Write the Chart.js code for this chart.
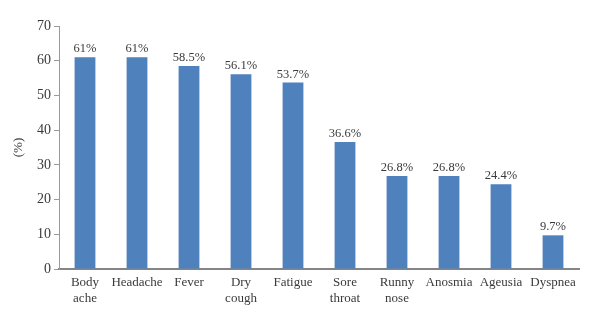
<!DOCTYPE html>
<html lang="en">
<head>
    <meta charset="UTF-8">
    <title>Symptoms</title>
    <style>
        body { margin: 0; background: #fff; }
        #wrap { width: 600px; height: 325px; position: relative; }
    </style>
</head>
<body>
    <div id="wrap"><canvas id="symptomChart"></canvas></div>

    <script src="https://cdn.jsdelivr.net/npm/chart.js@4.4.0/dist/chart.umd.min.js"></script>
    <script>
        // --- Data ---
        const symptoms = [
            ['Body', 'ache'], 'Headache', 'Fever', ['Dry', 'cough'], 'Fatigue',
            ['Sore', 'throat'], ['Runny', 'nose'], 'Anosmia', 'Ageusia', 'Dyspnea'
        ];
        const percentages = [61, 61, 58.5, 56.1, 53.7, 36.6, 26.8, 26.8, 24.4, 9.7];
        const yTicks = [0, 10, 20, 30, 40, 50, 60, 70];

        const serif = "'Liberation Serif', 'DejaVu Serif', serif";
        const textColor = '#3a3a3a';

        // Writes the percentage above each bar
        const valueLabels = {
            id: 'valueLabels',
            afterDatasetsDraw(chart) {
                const ctx = chart.ctx;
                const meta = chart.getDatasetMeta(0);
                ctx.save();
                ctx.font = '12.5px ' + serif;
                ctx.fillStyle = textColor;
                ctx.textAlign = 'center';
                ctx.textBaseline = 'alphabetic';
                meta.data.forEach((bar, i) => {
                    ctx.fillText(percentages[i] + '%', bar.x, bar.y - 5);
                });
                ctx.restore();
            }
        };

        new Chart(document.getElementById('symptomChart'), {
            type: 'bar',
            data: {
                labels: symptoms,
                datasets: [{
                    data: percentages,
                    backgroundColor: '#4f81bd',
                    barPercentage: 0.8,
                    categoryPercentage: 0.5
                }]
            },
            options: {
                responsive: true,
                maintainAspectRatio: false,
                animation: false,
                layout: { padding: { top: 26, right: 21, left: 0, bottom: 0 } },
                plugins: {
                    legend: { display: false },
                    tooltip: { enabled: false }
                },
                scales: {
                    x: {
                        grid: { display: false, drawTicks: false },
                        border: { color: '#858585', width: 2 },
                        ticks: {
                            color: textColor,
                            font: { family: serif, size: 13 },
                            padding: 6,
                            maxRotation: 0,
                            autoSkip: false
                        },
                        afterFit(scale) { scale.height = 56; }
                    },
                    y: {
                        min: 0,
                        max: 70,
                        afterBuildTicks(scale) {
                            scale.ticks = yTicks.map(v => ({ value: v }));
                        },
                        grid: {
                            drawOnChartArea: false,
                            drawTicks: true,
                            tickLength: 5,
                            color: '#9a9a9a'
                        },
                        border: { color: '#9a9a9a', width: 1 },
                        ticks: {
                            color: textColor,
                            font: { family: serif, size: 14 },
                            padding: 3
                        },
                        title: {
                            display: true,
                            text: '(%)',
                            color: textColor,
                            font: { family: serif, size: 13 },
                            padding: { top: 11, bottom: 0 }
                        },
                        afterFit(scale) { scale.width = 59; }
                    }
                }
            },
            plugins: [valueLabels]
        });
    </script>
</body>
</html>
